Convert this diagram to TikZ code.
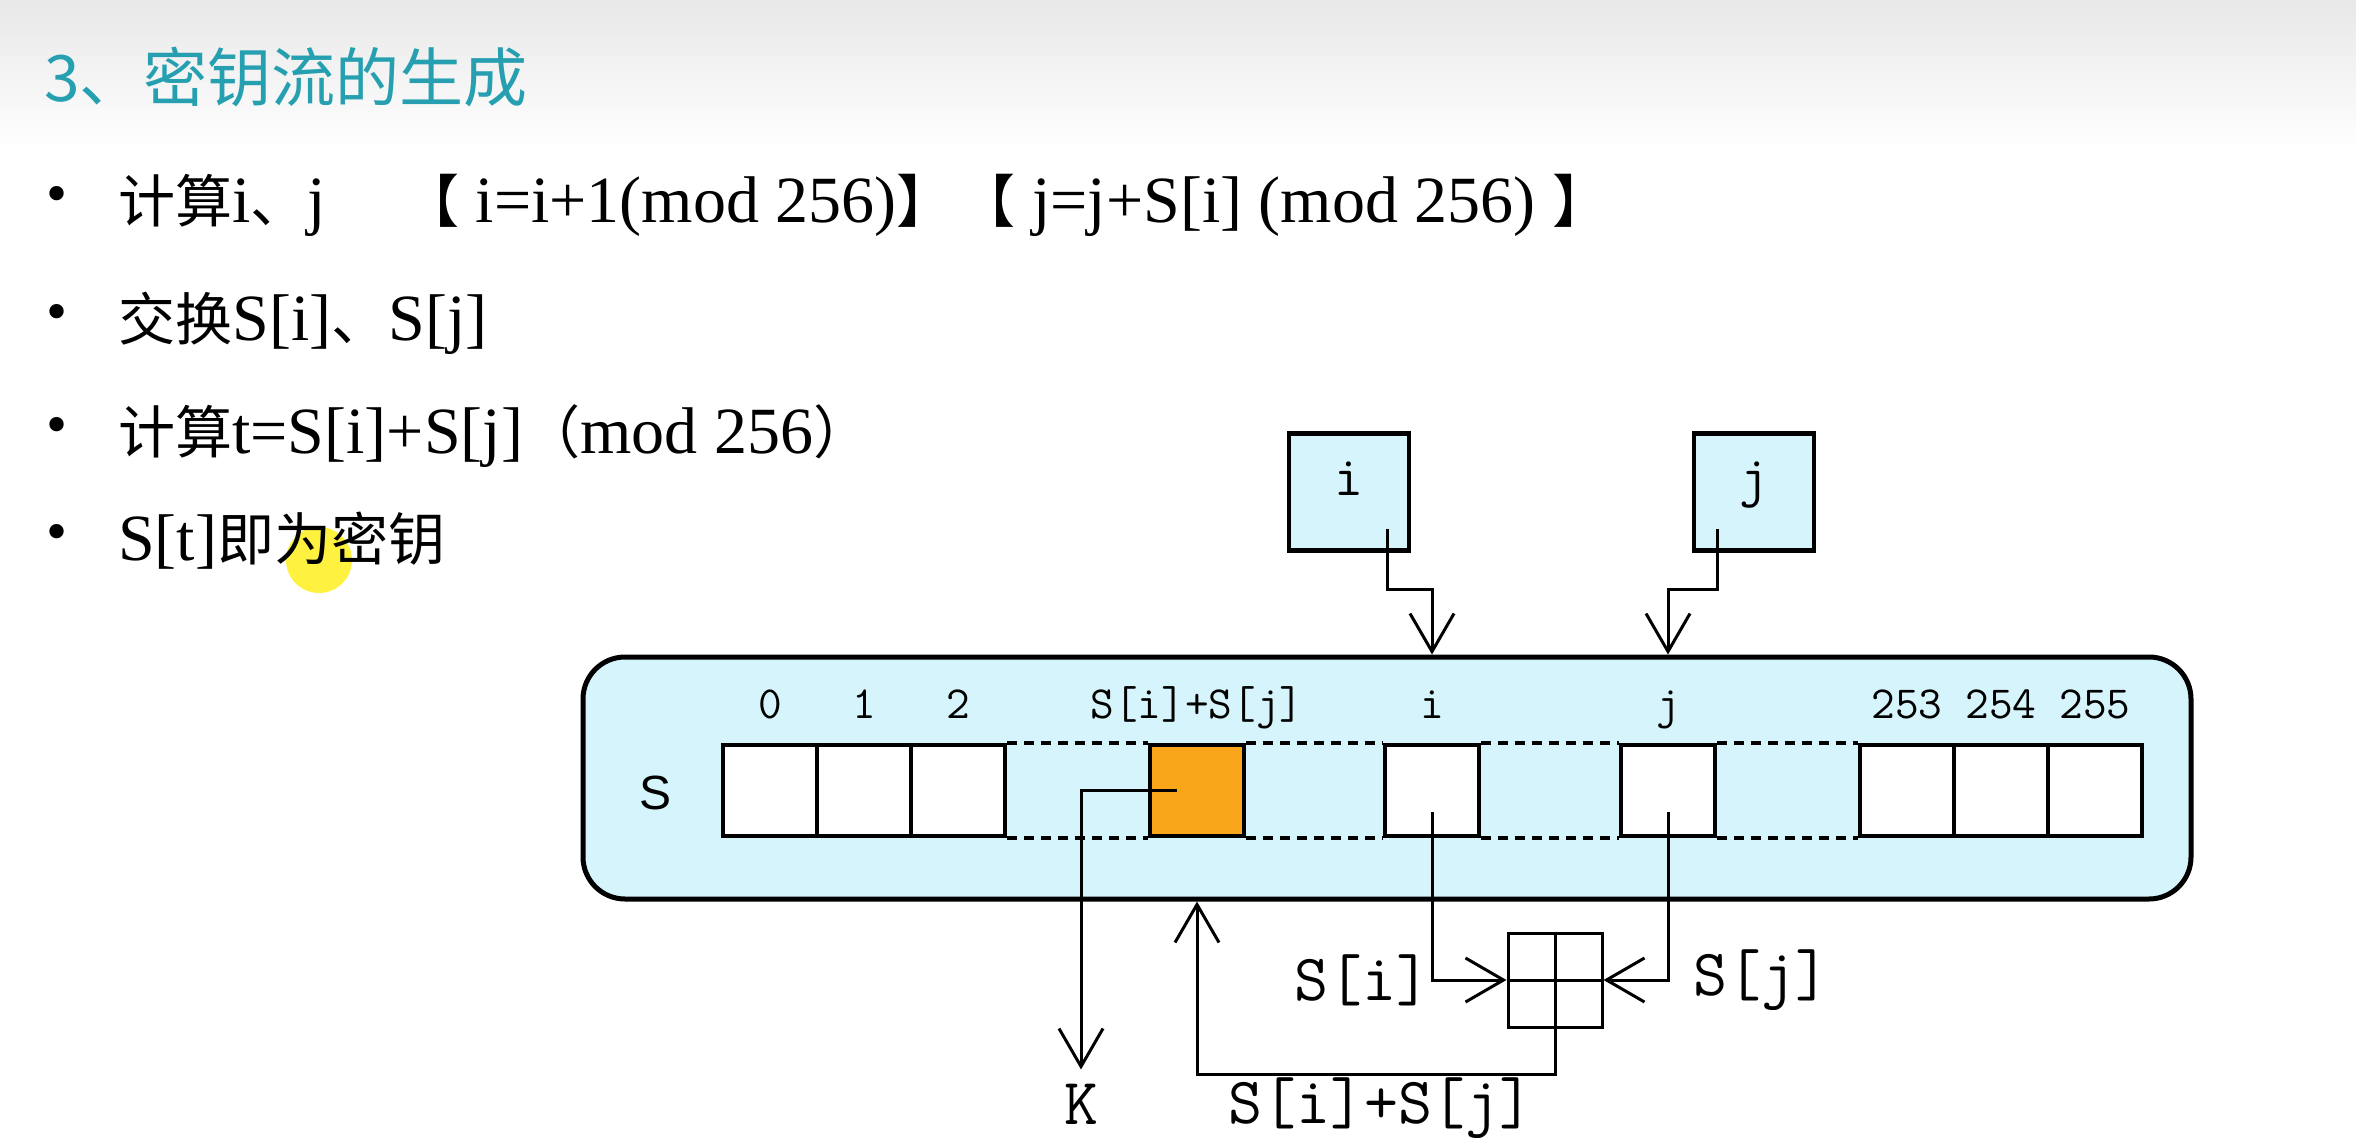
\documentclass[tikz,border=0pt]{standalone}
\usepackage{fontspec}
\setmainfont{Liberation Serif}
\setsansfont{Liberation Sans}
\newfontfamily\cjk[Scale=0.865]{Noto Sans CJK SC}
\usetikzlibrary{arrows.meta, positioning, calc}

\begin{document}
\begin{tikzpicture}[x=1pt, y=-1pt,
  cell/.style={draw, line width=4pt, fill=white, minimum width=94pt, minimum height=91pt, inner sep=0pt},
  regbox/.style={draw, line width=4.5pt, fill=lightcyan, minimum width=120pt, minimum height=117pt, inner sep=0pt, font=\ttfamily\fontsize{56}{56}\selectfont, text height=0.6em, text depth=0pt},
  idx/.style={font=\ttfamily\fontsize{46}{46}\selectfont, inner sep=0pt},
  lbl/.style={font=\ttfamily\fontsize{66}{66}\selectfont, inner sep=0pt},
  arr/.style={line width=3pt, -{Straight Barb[length=38pt, width=44pt]}},
  dashline/.style={line width=4pt, dash pattern=on 10pt off 7pt},
  body/.style={anchor=base west, font=\fontsize{66}{66}\selectfont, inner sep=0pt}]
  % Define colors
  \definecolor{titleteal}{RGB}{38,160,176}
  \definecolor{lightcyan}{RGB}{214,244,251}
  \definecolor{cellorange}{RGB}{250,166,26}

  \useasboundingbox (0,0) rectangle (2356,1141);
  \fill[white] (0,0) rectangle (2356,1141);
  \shade[top color=black!9, bottom color=white] (0,0) rectangle (2356,150);

  % Title and bullet lines
  \node[anchor=base west, inner sep=0pt, text=titleteal, font=\cjk\fontsize{74}{74}\selectfont] (title) at (44,101) {3、密钥流的生成};
  \foreach \y [count=\k] in {200,318,431,538}
    \node[font=\fontsize{60}{60}\selectfont, inner sep=0pt] (dot\k) at (57,\y) {•};
  \fill[yellow!95!orange, opacity=0.75] (319,560) circle [radius=33pt];
  \node[body] (line1) at (118,222) {{\cjk 计算}i{\cjk 、}j\hspace{76pt}{\cjk 【} i=i+1(mod 256){\cjk 】}\hspace{5pt}{\cjk 【} j=j+S[i] (mod 256) {\cjk 】}};
  \node[body] (line2) at (118,340) {{\cjk 交换}S[i]{\cjk 、}S[j]};
  \node[body] (line3) at (118,453) {{\cjk 计算}t=S[i]+S[j]{\cjk （}mod 256{\cjk ）}};
  \node[body] (line4) at (118,560) {S[t]{\cjk 即为密钥}};

  % State array S
  \node[draw, line width=5pt, rounded corners=42pt, fill=lightcyan, minimum width=1608pt, minimum height=242pt] (S) at (1387,778) {};
  \node[font=\sffamily\fontsize{48}{48}\selectfont] (sname) at (656,793) {S};
  \foreach \n [count=\k from 0] in {0,1,2}
    \node[cell] (c\n) at (770+\k*94,790) {};
  \node[cell, fill=cellorange] (csum) at (1197,790) {};
  \node[cell] (ci) at (1432,790) {};
  \node[cell] (cj) at (1668,790) {};
  \foreach \n [count=\k from 0] in {253,254,255}
    \node[cell] (c\n) at (1907+\k*94,790) {};
  \foreach \a/\b in {c2/csum, csum/ci, ci/cj, cj/c253} {
    \draw[dashline] (\a.north east) -- (\b.north west);
    \draw[dashline] (\a.south east) -- (\b.south west);
  }

  % Index labels
  \foreach \n in {0,1,2,253,254,255}
    \node[idx, anchor=base] (l\n) at ([yshift=24pt]c\n.north) {\n};
  \node[idx, anchor=base] (lsum) at ([yshift=24pt]csum.north) {S[i]+S[j]};
  \node[idx, anchor=base] (li) at ([yshift=24pt]ci.north) {i};
  \node[idx, anchor=base] (lj) at ([yshift=24pt]cj.north) {j};

  % Index registers i and j
  \node[regbox] (bi) at (1349,492) {i};
  \node[regbox] (bj) at (1754,492) {j};
  \draw[arr] ([xshift=-24pt, yshift=24pt]bi.south east) -- ++(0,61) -| (ci.north |- S.north);
  \draw[arr] ([xshift=26pt, yshift=24pt]bj.south west) -- ++(0,61) -| (cj.north |- S.north);

  % Adder
  \node[draw, line width=3pt, minimum size=94pt, inner sep=0pt] (comb) at (1555,980) {};
  \draw[line width=3pt] (comb.north) -- (comb.south);
  \draw[line width=3pt] (comb.west) -- (comb.east);
  \draw[arr] ([yshift=-22pt]ci.center) |- (comb.west);
  \draw[arr] ([yshift=-22pt]cj.center) |- (comb.east);
  \draw[arr] (comb.south) -- ++(0,46) -| (csum.south |- S.south);
  \node[lbl, left=76pt of comb] (si) {S[i]};
  \node[lbl, right=90pt of comb] (sj) {S[j]};
  \node[lbl, anchor=base] (ssum) at (1381,1123) {S[i]+S[j]};

  % Output key byte
  \node[lbl, anchor=base] (K) at (1081,1124) {K};
  \coordinate[above=14pt of K] (kend);
  \draw[arr] ([xshift=-20pt]csum.center) -| (kend);
\end{tikzpicture}
\end{document}
